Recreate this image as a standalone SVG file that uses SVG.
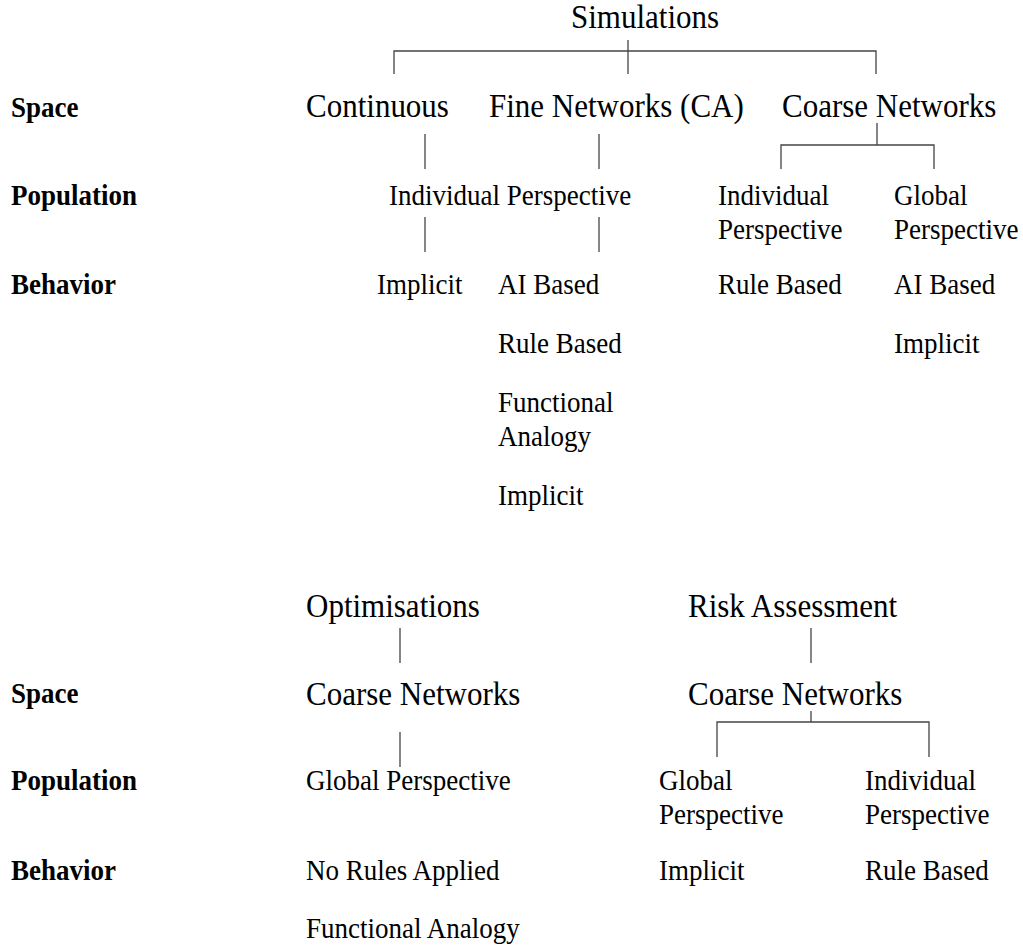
<svg xmlns="http://www.w3.org/2000/svg" width="1023" height="947" viewBox="0 0 1023 947">
<style>
text{font-family:"Liberation Serif","Times New Roman",serif;fill:#000}
.big{font-size:31px}
.sm{font-size:27px}
.hd{font-size:27px;font-weight:bold}
#connectors line,#connectors polyline{stroke:#444;stroke-width:1.3;fill:none}
</style>
<rect width="1023" height="947" fill="#fff"/>
<g id="row-labels">
<text class="hd" transform="translate(11,117) scale(1,1.07)">Space</text>
<text class="hd" transform="translate(11,205) scale(1,1.07)">Population</text>
<text class="hd" transform="translate(11,294) scale(1,1.07)">Behavior</text>
<text class="hd" transform="translate(11,703) scale(1,1.07)">Space</text>
<text class="hd" transform="translate(11,790) scale(1,1.07)">Population</text>
<text class="hd" transform="translate(11,880) scale(1,1.07)">Behavior</text>
</g>
<g id="connectors">
<line x1="628" y1="40" x2="628" y2="74"/>
<polyline points="394,74 394,51 876,51 876,74"/>
<line x1="425" y1="134" x2="425" y2="169"/>
<line x1="599" y1="134" x2="599" y2="169"/>
<line x1="425" y1="217" x2="425" y2="252"/>
<line x1="599" y1="217" x2="599" y2="252"/>
<line x1="877" y1="123" x2="877" y2="145"/>
<polyline points="781,169 781,145 934,145 934,169"/>
<line x1="400" y1="628" x2="400" y2="663"/>
<line x1="811" y1="628" x2="811" y2="663"/>
<line x1="400" y1="732" x2="400" y2="767"/>
<line x1="811" y1="711" x2="811" y2="722"/>
<polyline points="717,757 717,722 929,722 929,757"/>
</g>
<g id="simulations"><text class="big" transform="translate(571,28) scale(1,1.07)">Simulations</text></g>
<g id="continuous"><text class="big" transform="translate(306,117) scale(1,1.07)">Continuous</text></g>
<g id="fine-networks"><text class="big" transform="translate(489,117) scale(1,1.07)">Fine Networks (CA)</text></g>
<g id="coarse-networks"><text class="big" transform="translate(782,117) scale(1,1.07)">Coarse Networks</text></g>
<g id="individual-perspective"><text class="sm" transform="translate(389,205) scale(1,1.07)">Individual Perspective</text></g>
<g id="coarse-individual"><text class="sm" transform="translate(718,205) scale(1,1.07)">Individual</text><text class="sm" transform="translate(718,239) scale(1,1.07)">Perspective</text></g>
<g id="coarse-global"><text class="sm" transform="translate(894,205) scale(1,1.07)">Global</text><text class="sm" transform="translate(894,239) scale(1,1.07)">Perspective</text></g>
<g id="cont-implicit"><text class="sm" transform="translate(377,294) scale(1,1.07)">Implicit</text></g>
<g id="fine-ai"><text class="sm" transform="translate(498,294) scale(1,1.07)">AI Based</text></g>
<g id="fine-rule"><text class="sm" transform="translate(498,353) scale(1,1.07)">Rule Based</text></g>
<g id="fine-functional"><text class="sm" transform="translate(498,412) scale(1,1.07)">Functional</text><text class="sm" transform="translate(498,446) scale(1,1.07)">Analogy</text></g>
<g id="fine-implicit"><text class="sm" transform="translate(498,505) scale(1,1.07)">Implicit</text></g>
<g id="coarse-rule"><text class="sm" transform="translate(718,294) scale(1,1.07)">Rule Based</text></g>
<g id="coarse-ai"><text class="sm" transform="translate(894,294) scale(1,1.07)">AI Based</text></g>
<g id="coarse-implicit"><text class="sm" transform="translate(894,353) scale(1,1.07)">Implicit</text></g>
<g id="optimisations"><text class="big" transform="translate(306,617) scale(1,1.07)">Optimisations</text></g>
<g id="risk-assessment"><text class="big" transform="translate(688,617) scale(1,1.07)">Risk Assessment</text></g>
<g id="opt-coarse"><text class="big" transform="translate(306,705) scale(1,1.07)">Coarse Networks</text></g>
<g id="risk-coarse"><text class="big" transform="translate(688,705) scale(1,1.07)">Coarse Networks</text></g>
<g id="opt-global"><text class="sm" transform="translate(306,790) scale(1,1.07)">Global Perspective</text></g>
<g id="risk-global"><text class="sm" transform="translate(659,790) scale(1,1.07)">Global</text><text class="sm" transform="translate(659,824) scale(1,1.07)">Perspective</text></g>
<g id="risk-individual"><text class="sm" transform="translate(865,790) scale(1,1.07)">Individual</text><text class="sm" transform="translate(865,824) scale(1,1.07)">Perspective</text></g>
<g id="opt-norules"><text class="sm" transform="translate(306,880) scale(1,1.07)">No Rules Applied</text></g>
<g id="opt-functional"><text class="sm" transform="translate(306,938) scale(1,1.07)">Functional Analogy</text></g>
<g id="risk-implicit"><text class="sm" transform="translate(659,880) scale(1,1.07)">Implicit</text></g>
<g id="risk-rule"><text class="sm" transform="translate(865,880) scale(1,1.07)">Rule Based</text></g>
</svg>
